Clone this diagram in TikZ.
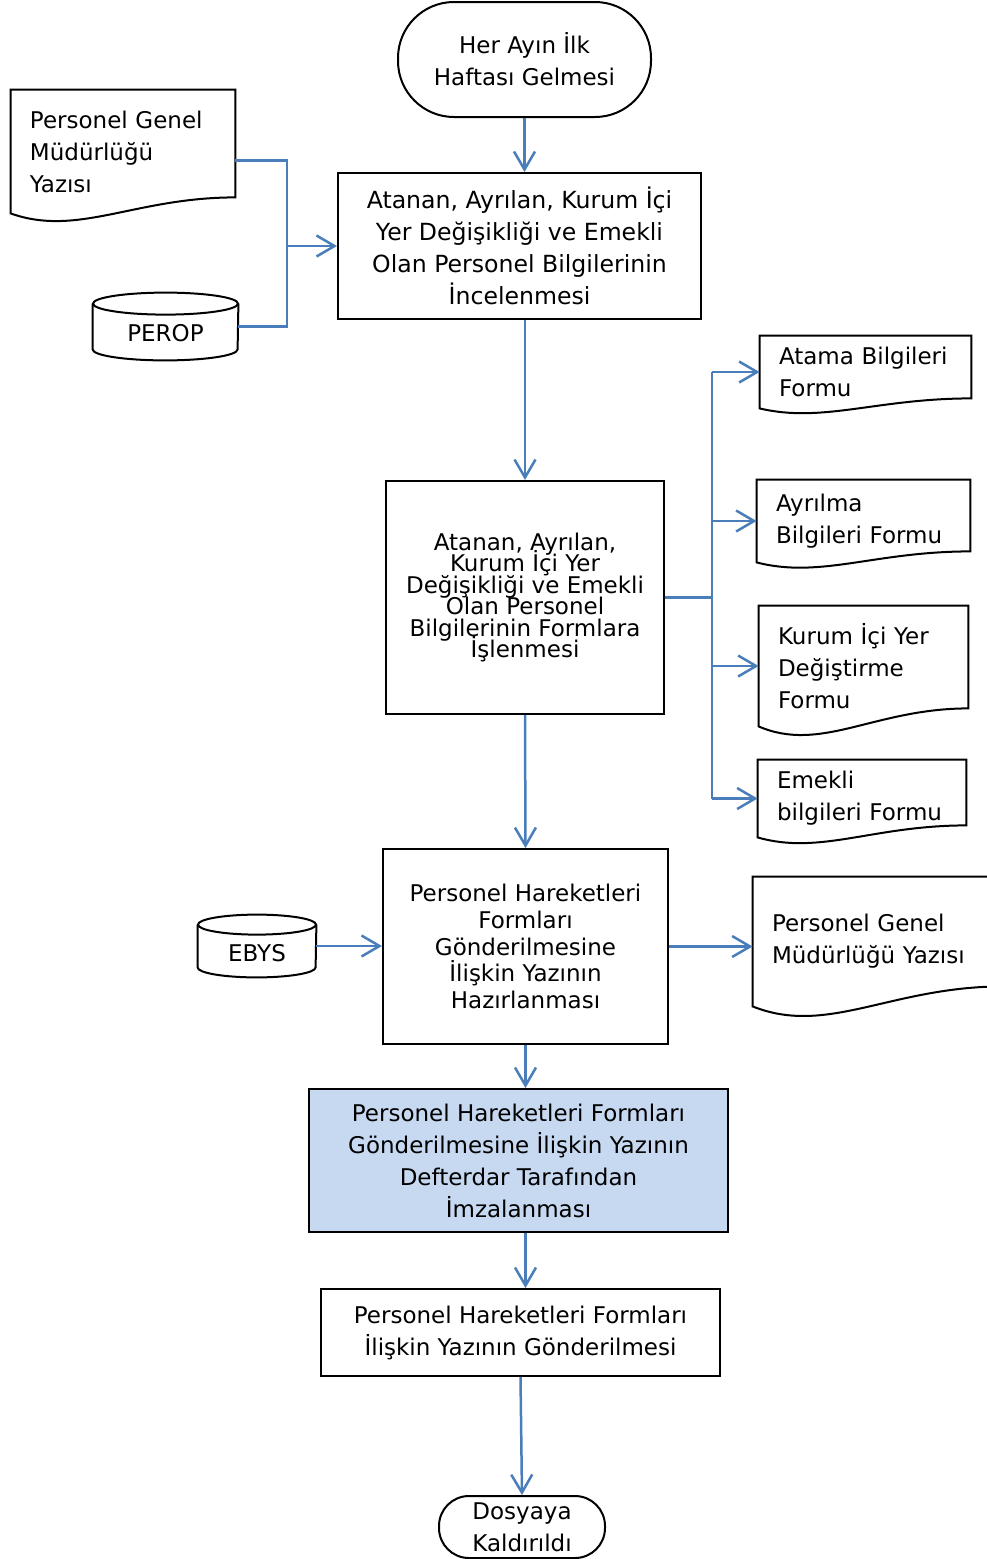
\documentclass[tikz,border=0pt]{standalone}
\usepackage{fontspec}
\setmainfont{DejaVu Sans}
\usetikzlibrary{arrows.meta,calc}

\definecolor{flowblue}{RGB}{74,126,187}
\definecolor{signfill}{RGB}{198,217,241}

\tikzset{boxdim/.style n args={2}{minimum width=#1*0.5pt, minimum height=#2*0.5pt}}

\newcommand{\tightlines}[1]{\fontsize{11.5}{#1}\selectfont\lineskiplimit=-100pt\relax}
\newcommand{\docoutline}[3]{\draw[shapeline] (#1.south west) -- (#1.north west) -- (#1.north east) -- ($(#1.south east)+(0,-#3)$) .. controls +(-0.45*#2,0) and +(0.3*#2,1.5*#3) .. (#1.south west) -- cycle;}
\newcommand{\dbcyl}[3]{\draw[shapeline] (#1.north west) -- (#1.south west) arc[start angle=180, end angle=360, x radius=#2, y radius=#3] -- (#1.north east);
	\draw[shapeline] (#1.north) ellipse[x radius=#2, y radius=#3];}

\begin{document}
\begin{tikzpicture}[x=0.5pt, y=-0.5pt, every node/.style={font=\fontsize{11.5}{16}\selectfont, inner sep=0pt, align=center},
	shapeline/.style={black, line width=1pt},
	procbox/.style={draw, line width=1pt},
	termbox/.style={draw, line width=1pt},
	docbox/.style={align=left, inner xsep=9.5pt, inner ysep=0pt},
	dbtext/.style={text height=15pt, text depth=0pt},
	flow/.style={draw=flowblue, line width=1.25pt, -{Straight Barb[length=9pt,width=10.5pt]}},
	link/.style={draw=flowblue, line width=1.25pt}]
	\useasboundingbox (0,0) rectangle (986,1559);
	\node[termbox, boxdim={253}{115}, rounded corners=28pt] (start) at (524.5,59.5) {Her Ayın İlk\\Haftası Gelmesi};
	\node[procbox, boxdim={363}{146}, font=\fontsize{11.8}{16}\selectfont] (incele) at (519.5,246) {Atanan, Ayrılan, Kurum İçi\\Yer Değişikliği ve Emekli\\Olan Personel Bilgilerinin\\İncelenmesi};
	\node[docbox, text width=93pt, minimum height=61.5pt] (pgm1) at (123,151.5) {Personel Genel\\Müdürlüğü\\Yazısı};
	\node[dbtext, boxdim={145}{45}] (perop) at (165.5,326.5) {PEROP};
	\node[procbox, boxdim={278}{233}, font=\tightlines{10.7}] (isle) at (525,597.5) {Atanan, Ayrılan,\\Kurum İçi Yer\\Değişikliği ve Emekli\\Olan Personel\\Bilgilerinin Formlara\\İşlenmesi};
	\node[docbox, text width=86.5pt, minimum height=36pt] (atama) at (865.5,372) {Atama Bilgileri\\Formu};
	\node[docbox, text width=87.5pt, minimum height=41pt] (ayrilma) at (863.5,521) {Ayrılma\\Bilgileri Formu};
	\node[docbox, text width=85.5pt, minimum height=60pt] (kurumici) at (863.5,666) {Kurum İçi Yer\\Değiştirme\\Formu};
	\node[docbox, text width=85pt, minimum height=38.5pt] (emekli) at (862,798.5) {Emekli\\bilgileri Formu};
	\node[procbox, boxdim={285}{195}, font=\tightlines{13.4}] (hazirla) at (525.5,946.5) {Personel Hareketleri\\Formları\\Gönderilmesine\\İlişkin Yazının\\Hazırlanması};
	\node[dbtext, boxdim={118}{42}] (ebys) at (257,946) {EBYS};
	\node[docbox, text width=106pt, minimum height=64.5pt] (pgm2) at (878,941.5) {Personel Genel\\Müdürlüğü Yazısı};
	\node[procbox, fill=signfill, boxdim={419}{143}] (imza) at (518.5,1160.5) {Personel Hareketleri Formları\\Gönderilmesine İlişkin Yazının\\Defterdar Tarafından\\İmzalanması};
	\node[procbox, boxdim={399}{87}] (gonder) at (520.5,1332.5) {Personel Hareketleri Formları\\İlişkin Yazının Gönderilmesi};
	\node[termbox, boxdim={166}{62}, rounded corners=15pt] (dosya) at (522,1527) {Dosyaya\\Kaldırıldı};
	\docoutline{pgm1}{224}{16}
	\docoutline{atama}{211}{10}
	\docoutline{ayrilma}{213}{11}
	\docoutline{kurumici}{209}{18}
	\docoutline{emekli}{208}{12}
	\docoutline{pgm2}{250}{20}
	\dbcyl{perop}{36.25pt}{5.5pt}
	\dbcyl{ebys}{29.5pt}{5pt}
	\draw[flow] (start.south) -- (start.south |- incele.north);
	\path (incele.west) ++(-50,0) coordinate (jn);
	\draw[link] ($(pgm1.east)+(0,9)$) -| (jn);
	\draw[link] (perop.east) -| (jn);
	\draw[flow] (jn) -- (incele.west);
	\draw[flow] (isle.north |- incele.south) -- (isle.north);
	\draw[flow] (isle.south) -- (hazirla.north);
	\path (isle.east) ++(47,0) coordinate (bus);
	\draw[link] (isle.east) -- (bus);
	\draw[link] (bus |- atama.west) -- (bus |- emekli.west);
	\foreach \f in {atama,ayrilma,kurumici,emekli}
		\draw[flow] (bus |- \f.west) -- (\f.west);
	\draw[flow] (ebys.east) -- (ebys.east -| hazirla.west);
	\draw[flow] (hazirla.east) -- (hazirla.east -| pgm2.west);
	\draw[flow] (hazirla.south) -- (hazirla.south |- imza.north);
	\draw[flow] (hazirla.south |- imza.south) -- (hazirla.south |- gonder.north);
	\draw[flow] (gonder.south) -- (dosya.north);
\end{tikzpicture}
\end{document}
